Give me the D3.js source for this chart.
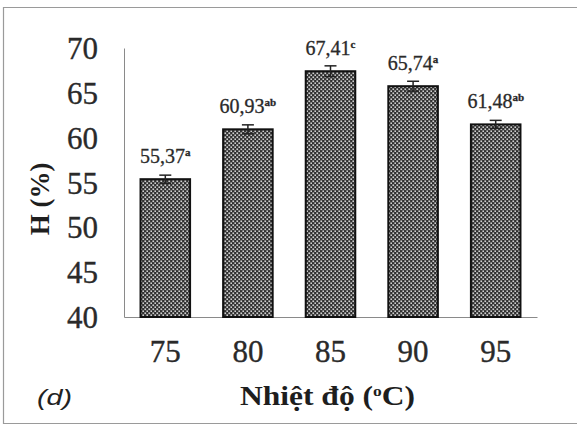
<!DOCTYPE html>
<html>
<head>
<meta charset="utf-8">
<script src="https://cdn.jsdelivr.net/npm/d3@7"></script>
<style>
  html, body { margin: 0; padding: 0; background: #fff; }
  svg { display: block; }
</style>
</head>
<body>
<script>
// Temperature levels (°C) and mean H (%) with their standard errors and group letters
const temperatures = ["75", "80", "85", "90", "95"];
const hValues = [55.37, 60.93, 67.41, 65.74, 61.48];
const hErrors = [0.45, 0.5, 0.6, 0.55, 0.45];
const groupLetters = ["a", "ab", "c", "a", "ab"];
const yTicks = [40, 45, 50, 55, 60, 65, 70];

const W = 577, H = 428;
const margin = { left: 124, right: 40, top: 48, bottom: 111 };

const svg = d3.select("body").append("svg")
  .attr("width", W).attr("height", H);

// Checkered fill used for the bars
const defs = svg.append("defs");
const pat = defs.append("pattern")
  .attr("id", "checker")
  .attr("patternUnits", "userSpaceOnUse")
  .attr("width", 4).attr("height", 4);
pat.append("rect").attr("width", 4).attr("height", 4).attr("fill", "#303030");
pat.append("rect").attr("x", 0.4).attr("y", 0.4).attr("width", 1.7).attr("height", 1.7).attr("fill", "#cfcfcf");
pat.append("rect").attr("x", 2.4).attr("y", 2.4).attr("width", 1.7).attr("height", 1.7).attr("fill", "#cfcfcf");

// Outer frame
svg.append("path")
  .attr("d", `M${W},7.5 H3.5 V423.5 H${W}`)
  .attr("fill", "none").attr("stroke", "#9a9a9a").attr("stroke-width", 1.2);

const x = d3.scaleBand()
  .domain(temperatures)
  .range([margin.left, W - margin.right])
  .paddingInner(0.4).paddingOuter(0.2);

const y = d3.scaleLinear()
  .domain([40, 70])
  .range([H - margin.bottom, margin.top]);

const serif = "'Liberation Serif', 'Times New Roman', serif";
const ink = "#2a2a2a";

// Y axis
const yAxis = svg.append("g")
  .attr("transform", `translate(${margin.left},0)`)
  .call(d3.axisLeft(y).tickValues(yTicks).tickSize(0).tickPadding(26));
yAxis.select(".domain").attr("stroke", "#8a8a8a").attr("stroke-width", 1);
yAxis.selectAll("text")
  .attr("font-family", serif).attr("font-size", 31).attr("fill", ink)
  .attr("stroke", ink).attr("stroke-width", 0.35)
  .attr("dy", "0.34em");

// X axis
const xAxis = svg.append("g")
  .attr("transform", `translate(0,${y(40)})`)
  .call(d3.axisBottom(x).tickSize(0).tickPadding(23));
xAxis.select(".domain").attr("stroke", "#8a8a8a").attr("stroke-width", 1);
xAxis.selectAll("text")
  .attr("font-family", serif).attr("font-size", 31).attr("fill", ink)
  .attr("stroke", ink).attr("stroke-width", 0.35);

// Bars
svg.append("g").selectAll("rect")
  .data(hValues)
  .join("rect")
  .attr("x", (d, i) => x(temperatures[i]))
  .attr("width", x.bandwidth())
  .attr("y", d => y(d))
  .attr("height", d => y(40) - y(d))
  .attr("fill", "url(#checker)")
  .attr("stroke", "#111").attr("stroke-width", 2);

// Error bars
const eb = svg.append("g").attr("stroke", "#222").attr("stroke-width", 1.5);
hValues.forEach((v, i) => {
  const cx = x(temperatures[i]) + x.bandwidth() / 2;
  eb.append("line").attr("x1", cx).attr("x2", cx).attr("y1", y(v - hErrors[i])).attr("y2", y(v + hErrors[i]));
  eb.append("line").attr("x1", cx - 6).attr("x2", cx + 6).attr("y1", y(v + hErrors[i])).attr("y2", y(v + hErrors[i]));
  eb.append("line").attr("x1", cx - 6).attr("x2", cx + 6).attr("y1", y(v - hErrors[i])).attr("y2", y(v - hErrors[i]));
});

// Value labels with group letters
const fmt = v => v.toFixed(2).replace(".", ",");
hValues.forEach((v, i) => {
  const cx = x(temperatures[i]) + x.bandwidth() / 2;
  const t = svg.append("text")
    .attr("x", cx).attr("y", y(v) - 16)
    .attr("text-anchor", "middle")
    .attr("font-family", serif).attr("font-size", 20).attr("fill", ink)
    .attr("stroke", ink).attr("stroke-width", 0.3);
  t.append("tspan").text(fmt(v));
  t.append("tspan").attr("dy", -7).attr("font-size", 11).attr("font-weight", "bold").text(groupLetters[i]);
});

// Axis titles
svg.append("text")
  .attr("transform", `translate(49,${199}) rotate(-90)`)
  .attr("text-anchor", "middle")
  .attr("font-family", serif).attr("font-weight", "bold").attr("font-size", 27).attr("fill", "#1e1e1e")
  .text("H (%)");

const xt = svg.append("text")
  .attr("x", 240).attr("y", 405)
  .attr("textLength", 175).attr("lengthAdjust", "spacingAndGlyphs")
  .attr("font-family", serif).attr("font-weight", "bold").attr("font-size", 27).attr("fill", "#1e1e1e");
xt.append("tspan").text("Nhiệt độ (");
xt.append("tspan").attr("dy", -9).attr("font-size", 15).text("o");
xt.append("tspan").attr("dy", 9).text("C)");

svg.append("text")
  .attr("x", 37).attr("y", 405)
  .attr("textLength", 35).attr("lengthAdjust", "spacingAndGlyphs")
  .attr("font-family", "'Liberation Sans', Arial, sans-serif").attr("font-style", "italic")
  .attr("font-size", 22).attr("fill", "#222")
  .text("(d)");
</script>
</body>
</html>
